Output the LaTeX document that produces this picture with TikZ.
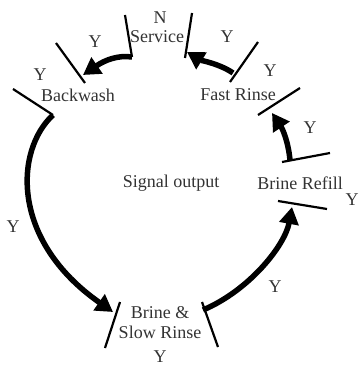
\documentclass[tikz,border=0pt]{standalone}
\usepackage{fontspec}
\setmainfont{Liberation Serif}
\usetikzlibrary{arrows.meta}

\begin{document}
\begin{tikzpicture}[x=1pt, y=-1pt,
    lbl/.style={inner sep=0pt, text=black!80, align=center,
                font=\fontsize{18}{20}\selectfont},
    bar/.style={line width=2.2pt},
    arr/.style={-{Triangle[length=17pt, width=19pt]}, line width=5.5pt}
]
\useasboundingbox (0,0) rectangle (358,371);

% states
\node[lbl] (service)  at (157,37)  {Service};
\node[lbl] (svN)      at (160,18)  {N};
\node[lbl] (backwash) at (78,95)   {Backwash};
\node[lbl] (fastr)    at (238,95)  {Fast Rinse};
\node[lbl] (refill)   at (300,183) {Brine Refill};
\node[lbl] (signal)   at (171,183) {Signal output};
\node[lbl] (slowr)    at (160,323) {Brine \&\\Slow Rinse};

% Y marks
\node[lbl] (y1) at (95,42)   {Y};
\node[lbl] (y2) at (40,75)   {Y};
\node[lbl] (y3) at (13,227)  {Y};
\node[lbl] (y4) at (160,357) {Y};
\node[lbl] (y5) at (275,287) {Y};
\node[lbl] (y6) at (352,200) {Y};
\node[lbl] (y7) at (310,128) {Y};
\node[lbl] (y8) at (270,71)  {Y};
\node[lbl] (y9) at (227,37)  {Y};

% bars
\draw[bar] (125,15) -- (132,57) coordinate (sv out);
\draw[bar] (192,13) -- (185,58);
\draw[bar] (56,43) -- (85,83);
\draw[bar] (13,89) -- (53,115) coordinate (bw out);
\draw[bar] (258,42) -- (230,82);
\draw[bar] (300,88) -- (258,115);
\draw[bar] (282,162) -- (330,153);
\draw[bar] (278,201) -- (327,209);
\draw[bar] (120,302) -- (105,348);
\draw[bar] (202,302) -- (218,347);

\coordinate (bw in) at (83,75);
\coordinate (sr in) at (113,312);
\coordinate (sr out) at (203,310);
\coordinate (br in) at (292,207);
\coordinate (br out) at (290,160);
\coordinate (fr in) at (272,113);
\coordinate (fr out) at (233,73);
\coordinate (sv in) at (187,52);

\draw[arr] (sv out) .. controls (118,55) and (105,60) .. (bw in);
\draw[arr] (bw out) .. controls (15,150) and (10,240) .. (sr in);
\draw[arr] (sr out) .. controls (250,290) and (285,245) .. (br in);
\draw[arr] (br out) .. controls (288,140) and (282,128) .. (fr in);
\draw[arr] (fr out) .. controls (220,64) and (200,60) .. (sv in);
\end{tikzpicture}
\end{document}
